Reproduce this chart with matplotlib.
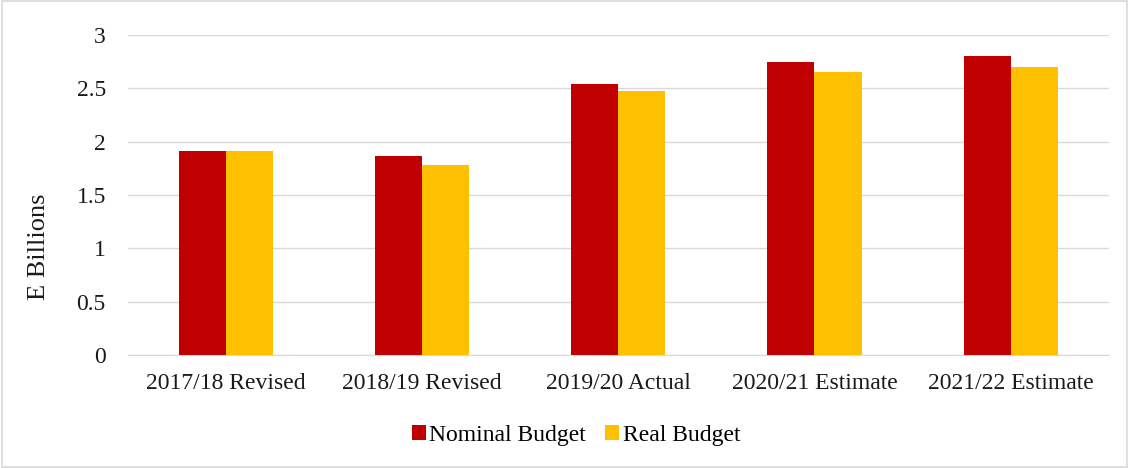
import numpy as np
import matplotlib.pyplot as plt
from matplotlib.patches import Rectangle

categories = ['2017/18 Revised', '2018/19 Revised', '2019/20 Actual', '2020/21 Estimate', '2021/22 Estimate']
nominal = [1.91, 1.87, 2.54, 2.75, 2.80]
real = [1.91, 1.78, 2.475, 2.65, 2.70]

plt.rcParams['font.family'] = ['Liberation Serif', 'DejaVu Serif']

fig = plt.figure(figsize=(11.29, 4.68), dpi=100)
ax = fig.add_axes([0.1134, 0.2415, 0.8686, 0.6835])

x = np.arange(len(categories))
w = 0.24
ax.bar(x - w/2, nominal, width=w, color='#c00000', label='Nominal Budget', zorder=3)
ax.bar(x + w/2, real, width=w, color='#ffc000', label='Real Budget', zorder=3)

ax.set_xlim(-0.5, len(categories) - 0.5)
ax.set_ylim(0, 3)
ax.set_yticks([0, 0.5, 1, 1.5, 2, 2.5, 3])
ax.set_yticklabels(['0', '0.5', '1', '1.5', '2', '2.5', '3'])
ax.set_xticks(x)
ax.set_xticklabels(categories)
ax.tick_params(axis='both', length=0, labelsize=17, colors='#1a1a1a')
ax.tick_params(axis='y', pad=16)
ax.tick_params(axis='x', pad=13)
ax.grid(axis='y', color='#d9d9d9', lw=1, zorder=0)
for s in ['top', 'right', 'left']:
    ax.spines[s].set_visible(False)
ax.spines['bottom'].set_color('#d9d9d9')

fig.text(39 / 1129, 1 - 247 / 468, 'E Billions', rotation=90, fontsize=19,
         ha='center', va='center', color='#1a1a1a')

fig.legend(loc='center', bbox_to_anchor=(576 / 1129, 1 - 435 / 468), ncol=2,
           frameon=False, fontsize=17, handlelength=0.6, handleheight=0.6,
           handletextpad=0.15, columnspacing=0.8)

# light border around the whole chart
fig.add_artist(Rectangle((0.002, 0.003), 0.996, 0.994, transform=fig.transFigure,
                         fill=False, edgecolor='#d9d9d9', lw=1.2))

fig.savefig('out.png', dpi=100)
